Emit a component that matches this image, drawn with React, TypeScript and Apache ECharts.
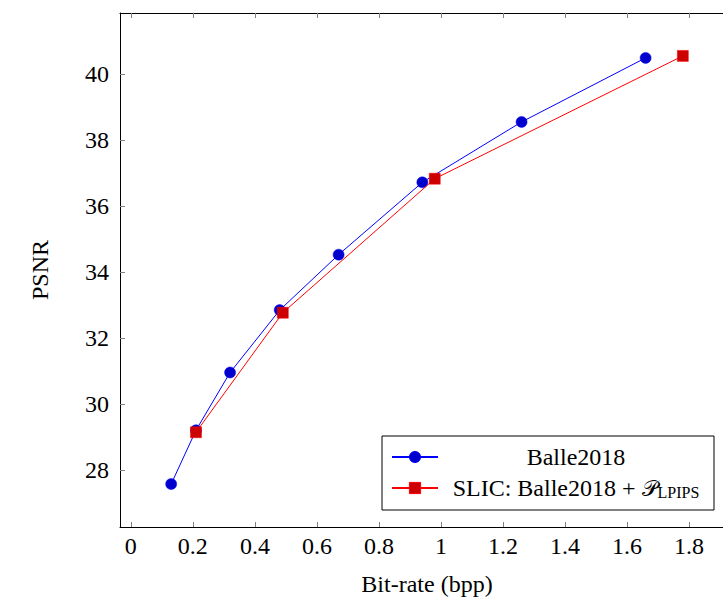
import React, { useEffect, useRef } from "react";
import * as echarts from "echarts";

const balleBpp = [0.13, 0.21, 0.32, 0.48, 0.67, 0.94, 1.26, 1.66];
const ballePsnr = [27.58, 29.21, 30.96, 32.85, 34.53, 36.72, 38.55, 40.49];
const slicBpp = [0.21, 0.49, 0.98, 1.78];
const slicPsnr = [29.15, 32.77, 36.83, 40.55];
const xTicks = [0, 0.2, 0.4, 0.6, 0.8, 1, 1.2, 1.4, 1.6, 1.8];
const yTicks = [28, 30, 32, 34, 36, 38, 40];
const seriesNames = ["Balle2018", "SLIC: Balle2018 + P_LPIPS"];

const FONT = "'Liberation Serif', 'DejaVu Serif', serif";

export default function App() {
  const ref = useRef<HTMLDivElement>(null);
  useEffect(() => {
    if (!ref.current) return;
    const chart = echarts.init(ref.current, null, { renderer: "svg" });
    const tickStyle = { show: true, inside: true, length: 5, lineStyle: { color: "#808080", width: 1 } };
    const axisLine = { show: true, onZero: false, lineStyle: { color: "#000", width: 1 } };
    const xBase = {
      type: "value" as const,
      min: -0.035,
      max: 1.945,
      splitLine: { show: false },
      axisLine,
      axisTick: { ...tickStyle, customValues: xTicks },
    };
    const yBase = {
      type: "value" as const,
      min: 26.28,
      max: 41.85,
      splitLine: { show: false },
      axisLine,
      axisTick: { ...tickStyle, customValues: yTicks },
    };
    chart.setOption({
      animation: false,
      backgroundColor: "#fff",
      grid: { left: 120, top: 13, right: -11, bottom: 74, containLabel: false, outerBoundsMode: "none" },
      xAxis: [
        {
          ...xBase,
          position: "bottom",
          name: "Bit-rate (bpp)",
          nameLocation: "middle",
          nameGap: 45,
          nameTextStyle: { fontFamily: FONT, fontSize: 24, color: "#000" },
          axisLabel: {
            show: true,
            customValues: xTicks,
            fontFamily: FONT,
            fontSize: 24,
            color: "#000",
            margin: 7,
            formatter: (v: number) => String(Math.round(v * 10) / 10),
          },
        },
        { ...xBase, position: "top", axisLabel: { show: false } },
      ],
      yAxis: [
        {
          ...yBase,
          position: "left",
          name: "PSNR",
          nameLocation: "middle",
          nameGap: 68,
          nameRotate: 90,
          nameTextStyle: { fontFamily: FONT, fontSize: 24, color: "#000" },
          axisLabel: {
            show: true,
            customValues: yTicks,
            fontFamily: FONT,
            fontSize: 24,
            color: "#000",
            margin: 11,
          },
        },
        { ...yBase, position: "right", axisLabel: { show: false } },
      ],
      legend: {
        orient: "vertical",
        left: 382,
        top: 436,
        padding: [9, 5, 10, 9],
        itemGap: 7,
        itemWidth: 46,
        itemHeight: 14,
        itemStyle: { borderWidth: 1 },
        borderColor: "#000",
        borderWidth: 1,
        backgroundColor: "#fff",
        data: seriesNames,
        formatter: (name: string) =>
          name === seriesNames[0]
            ? "{t|Balle2018}"
            : "{t|SLIC: Balle2018 + }{p|𝒫}{s|LPIPS}",
        textStyle: {
          width: 266,
          align: "center",
          lineHeight: 24,
          fontFamily: FONT,
          fontSize: 24,
          color: "#000",
          rich: {
            t: { fontFamily: FONT, fontSize: 24, color: "#000", align: "center" },
            p: { fontFamily: "'DejaVu Serif', 'Noto Sans', serif", fontSize: 22, color: "#000", align: "center" },
            s: { fontFamily: FONT, fontSize: 16, color: "#000", verticalAlign: "bottom", padding: [8, 0, 0, 0], align: "center" },
          },
        },
      },
      series: [
        {
          name: seriesNames[0],
          type: "line",
          xAxisIndex: 0,
          yAxisIndex: 0,
          data: balleBpp.map((x, i) => [x, ballePsnr[i]]),
          symbol: "circle",
          symbolSize: 11,
          itemStyle: { color: "#0000cc", borderColor: "#0000ff", borderWidth: 0.5 },
          lineStyle: { color: "#0000ff", width: 1 },
          z: 2,
        },
        {
          name: seriesNames[1],
          type: "line",
          xAxisIndex: 0,
          yAxisIndex: 0,
          data: slicBpp.map((x, i) => [x, slicPsnr[i]]),
          symbol: "rect",
          symbolSize: 11,
          itemStyle: { color: "#cc0000", borderColor: "#ff0000", borderWidth: 0.5 },
          lineStyle: { color: "#ff0000", width: 1 },
          z: 3,
        },
      ],
    });
    return () => chart.dispose();
  }, []);
  return (
    <div
      ref={ref}
      style={{ position: "absolute", left: 0, top: 0, width: 723, height: 601 }}
    />
  );
}
